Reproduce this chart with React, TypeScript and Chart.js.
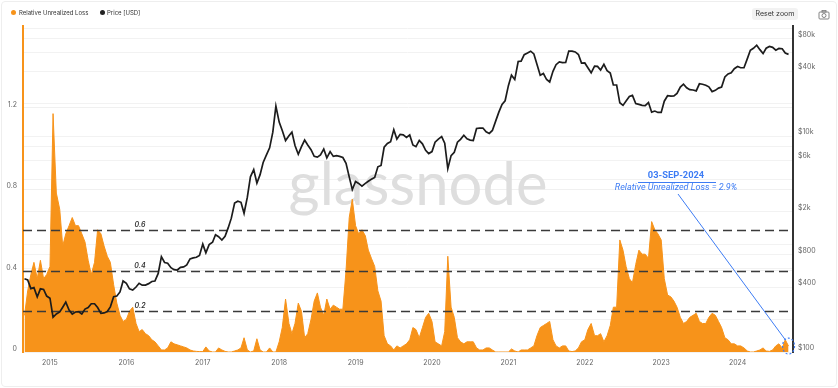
import { useEffect, useRef } from 'react';
import { Chart, registerables } from 'chart.js';

Chart.register(...registerables);

// ---- Data (semi-monthly samples: 1st and 16th of each month, starting 1-Sep-2014) ----
const firstSample = { year: 2014, month: 9 };

const lossValues: number[] = [
  // 2014 (Sep-Dec)
  0.18, 0.30, 0.38, 0.44, 0.36, 0.45, 0.36, 0.38,
  // 2015
  0.42, 1.17, 0.78, 0.70, 0.52, 0.58, 0.62, 0.66, 0.62, 0.62, 0.58, 0.54,
  0.45, 0.38, 0.44, 0.60, 0.58, 0.52, 0.47, 0.44, 0.33, 0.24, 0.18, 0.15,
  // 2016
  0.16, 0.20, 0.22, 0.14, 0.10, 0.11, 0.09, 0.08, 0.06, 0.05, 0.03, 0.01,
  0.01, 0.02, 0.05, 0.04, 0.035, 0.03, 0.025, 0.02, 0.01, 0.005, 0.003, 0.002,
  // 2017
  0.002, 0.025, 0.005, 0, 0, 0.02, 0.01, 0.003, 0, 0, 0.005, 0.01,
  0.02, 0.07, 0.01, 0, 0.005, 0.065, 0.01, 0, 0, 0.02, 0, 0,
  // 2018
  0.05, 0.12, 0.26, 0.14, 0.09, 0.14, 0.24, 0.20, 0.07, 0.09, 0.16, 0.25,
  0.29, 0.22, 0.18, 0.26, 0.21, 0.23, 0.22, 0.21, 0.21, 0.40, 0.66, 0.75,
  // 2019
  0.62, 0.58, 0.60, 0.57, 0.50, 0.46, 0.42, 0.30, 0.25, 0.08, 0.04, 0.03,
  0.01, 0.03, 0.02, 0.03, 0.04, 0.06, 0.12, 0.11, 0.07, 0.12, 0.17, 0.19,
  // 2020
  0.15, 0.05, 0.04, 0.03, 0.10, 0.47, 0.22, 0.17, 0.07, 0.05, 0.04, 0.05,
  0.05, 0.05, 0.02, 0.01, 0.01, 0.02, 0.02, 0.01, 0, 0, 0, 0,
  // 2021
  0, 0.015, 0.005, 0, 0.01, 0.01, 0.01, 0.02, 0.03, 0.08, 0.12, 0.13,
  0.14, 0.15, 0.06, 0.03, 0.02, 0.03, 0.03, 0.005, 0.002, 0.005, 0.02, 0.05,
  // 2022
  0.06, 0.11, 0.14, 0.08, 0.08, 0.09, 0.05, 0.08, 0.13, 0.22, 0.22, 0.55,
  0.50, 0.42, 0.36, 0.34, 0.43, 0.50, 0.48, 0.48, 0.46, 0.64, 0.60, 0.58,
  // 2023
  0.55, 0.36, 0.28, 0.27, 0.25, 0.22, 0.17, 0.14, 0.15, 0.17, 0.18, 0.19,
  0.15, 0.14, 0.14, 0.17, 0.19, 0.18, 0.15, 0.12, 0.07, 0.06, 0.04, 0.04,
  // 2024 (Jan - 1 Sep)
  0.03, 0.03, 0.02, 0.005, 0, 0, 0.005, 0.01, 0.02, 0.005, 0.003, 0.01,
  0.03, 0.04, 0.02, 0.06, 0.029,
];

const priceValues: number[] = [
  // 2014 (Sep-Dec)
  477, 465, 387, 395, 325, 385, 380, 330,
  // 2015
  315, 210, 225, 235, 260, 290, 245, 225, 235, 237, 225, 250,
  258, 280, 280, 258, 228, 230, 237, 262, 325, 330, 360, 455,
  // 2016
  433, 385, 375, 400, 433, 416, 417, 430, 450, 455, 535, 765,
  675, 665, 605, 580, 575, 608, 615, 640, 730, 745, 755, 785,
  // 2017
  1000, 830, 990, 1040, 1220, 1170, 1090, 1180, 1420, 1740, 2400, 2500,
  2440, 1930, 2720, 4200, 4900, 3680, 4400, 5700, 6700, 7800, 10900, 19000,
  // 2018
  13500, 11300, 9100, 10100, 10900, 8200, 6800, 8000, 9200, 8300, 7500, 6500,
  6400, 6700, 7600, 6300, 7200, 6500, 6600, 6500, 6350, 5600, 4200, 3200,
  // 2019
  3800, 3650, 3450, 3650, 3820, 4000, 4150, 5200, 5350, 7900, 8550, 8900,
  11500, 9400, 10400, 10300, 9750, 10270, 8300, 8000, 9150, 8500, 7400, 6900,
  // 2020
  7200, 8800, 9400, 9900, 8600, 5000, 6600, 7100, 8800, 9350, 10200, 9450,
  9200, 9130, 11800, 11900, 11900, 11000, 10600, 11300, 13800, 16700, 19700, 21300,
  // 2021
  29400, 36800, 33500, 49200, 49600, 56900, 59000, 61300, 57800, 46400, 36700, 38100,
  33500, 31800, 39900, 46000, 48800, 48000, 48200, 61500, 61300, 60400, 57200, 47600,
  // 2022
  47700, 43100, 38700, 44500, 44400, 41100, 46300, 40500, 38500, 29800, 29800, 20400,
  19300, 21200, 23300, 23900, 20100, 19700, 19300, 19200, 20500, 16700, 17100, 16600,
  // 2023
  16600, 21100, 23700, 23500, 23600, 24900, 28500, 30300, 28100, 27000, 26800, 26300,
  30600, 30300, 29700, 28700, 25900, 26600, 27900, 28500, 35400, 37800, 38700, 42200,
  // 2024 (Jan - 1 Sep)
  44200, 43100, 43100, 52100, 62500, 65300, 69700, 63400, 58300, 65300, 67800, 66600,
  62700, 65100, 64600, 58900, 57300,
];

const yearTicks = [2015, 2016, 2017, 2018, 2019, 2020, 2021, 2022, 2023, 2024];
const lossTicks = [0, 0.4, 0.8, 1.2];
const thresholdLevels = [0.2, 0.4, 0.6];
const priceGridTicks = [100, 200, 400, 600, 800, 1000, 2000, 4000, 6000, 8000, 10000, 20000, 40000, 60000, 80000, 100000];
const priceTickLabels: Record<number, string> = {
  100: '$100', 400: '$400', 800: '$800', 2000: '$2k', 6000: '$6k', 10000: '$10k', 40000: '$40k', 80000: '$80k',
};
const annotationDate = '03-SEP-2024';
const annotationMetric = 'Relative Unrealized Loss';

// ---- styling ----
const ORANGE = '#F7931A';
const BLUE = '#3D7CF4';
const FONT = 'Inter, "Open Sans", sans-serif';

function sampleTimes(n: number): number[] {
  const out: number[] = [];
  for (let i = 0; i < n; i++) {
    const m = firstSample.month - 1 + Math.floor(i / 2);
    const year = firstSample.year + Math.floor(m / 12);
    const mon = m % 12;
    const day = i % 2 ? 16 : 1;
    const dim = new Date(year, mon + 1, 0).getDate();
    out.push(year + (mon + (day - 1) / dim) / 12);
  }
  return out;
}

export default function App() {
  const ref = useRef<HTMLCanvasElement>(null);

  useEffect(() => {
    document.body.style.margin = '0';
    const times = sampleTimes(lossValues.length);

    const watermark = {
      id: 'watermark',
      beforeDatasetsDraw(chart: any) {
        const { ctx } = chart;
        ctx.save();
        ctx.font = `400 52px Lato, sans-serif`;
        const w = ctx.measureText('glassnode').width;
        const size = 52 * 259 / w;
        ctx.font = `400 ${size}px Lato, sans-serif`;
        ctx.fillStyle = '#dedede';
        ctx.textAlign = 'center';
        ctx.textBaseline = 'alphabetic';
        ctx.fillText('glassnode', 418, 205);
        ctx.restore();
      },
    };

    const thresholds = {
      id: 'thresholds',
      afterDatasetDraw(chart: any, args: any) {
        if (args.index !== 1) return;
        const { ctx, chartArea } = chart;
        const ys = chart.scales.yLoss;
        ctx.save();
        ctx.strokeStyle = '#3a3a3a';
        ctx.lineWidth = 1.4;
        ctx.setLineDash([9, 5]);
        ctx.fillStyle = '#333';
        ctx.font = `italic 600 7px ${FONT}`;
        ctx.textAlign = 'center';
        ctx.textBaseline = 'middle';
        for (const lv of thresholdLevels) {
          const y = Math.round(ys.getPixelForValue(lv)) + 0.5;
          ctx.beginPath();
          ctx.moveTo(chartArea.left, y);
          ctx.lineTo(chartArea.right, y);
          ctx.stroke();
          ctx.fillText(String(lv), 140, y - 6);
        }
        ctx.restore();
      },
    };

    const annotation = {
      id: 'annotation',
      afterDraw(chart: any) {
        const { ctx } = chart;
        const last = lossValues.length - 1;
        const px = chart.scales.x.getPixelForValue(times[last]);
        const py = chart.scales.yLoss.getPixelForValue(lossValues[last]);
        ctx.save();
        ctx.fillStyle = BLUE;
        ctx.strokeStyle = BLUE;
        ctx.textAlign = 'center';
        ctx.textBaseline = 'middle';
        ctx.font = `bold 9.3px Roboto, sans-serif`;
        ctx.fillText(annotationDate, 676, 176);
        ctx.lineWidth = 1;
        ctx.beginPath();
        ctx.moveTo(638, 182.5);
        ctx.lineTo(716, 182.5);
        ctx.stroke();
        ctx.font = `italic 9px Roboto, sans-serif`;
        ctx.fillText(`${annotationMetric} = ${(lossValues[last] * 100).toFixed(1)}%`, 676, 188);
        ctx.beginPath();
        ctx.moveTo(678, 194);
        ctx.lineTo(px - 3, py - 6);
        ctx.stroke();
        ctx.setLineDash([2, 2]);
        ctx.lineWidth = 1.2;
        ctx.beginPath();
        ctx.ellipse(px, py, 6, 8, 0, 0, Math.PI * 2);
        ctx.stroke();
        ctx.restore();
      },
    };

    const chart = new Chart(ref.current!, {
      type: 'line',
      data: {
        datasets: [
          {
            label: 'Price [USD]',
            data: times.map((t, i) => ({ x: t, y: priceValues[i] })),
            yAxisID: 'yPrice',
            borderColor: '#1c1c1c',
            borderWidth: 1.7,
            pointRadius: 0,
            fill: false,
            tension: 0,
          },
          {
            label: 'Relative Unrealized Loss',
            data: times.map((t, i) => ({ x: t, y: lossValues[i] })),
            yAxisID: 'yLoss',
            borderColor: ORANGE,
            backgroundColor: ORANGE,
            borderWidth: 1,
            pointRadius: 0,
            fill: 'origin',
            tension: 0,
          },
        ],
      },
      options: {
        responsive: false,
        animation: false,
        devicePixelRatio: 1,
        events: [],
        layout: { padding: { top: 26, left: 0, right: 0, bottom: 0 } },
        plugins: { legend: { display: false }, tooltip: { enabled: false } },
        scales: {
          x: {
            type: 'linear',
            min: 2014.647,
            max: 2024.725,
            afterBuildTicks: (s: any) => { s.ticks = yearTicks.map((v) => ({ value: v })); },
            afterFit: (s: any) => { s.height = 36; },
            grid: { display: false, drawTicks: false },
            border: { display: false },
            ticks: {
              autoSkip: false,
              maxRotation: 0,
              padding: 7,
              color: '#666',
              font: { family: FONT, size: 7 },
              callback: (v: any) => String(v),
            },
          },
          yLoss: {
            type: 'linear',
            position: 'left',
            min: 0,
            max: 1.6,
            afterBuildTicks: (s: any) => { s.ticks = lossTicks.map((v) => ({ value: v })); },
            afterFit: (s: any) => { s.width = 23; },
            grid: { color: '#f0f0f0', drawTicks: false },
            border: { color: ORANGE, width: 2 },
            ticks: {
              autoSkip: false,
              padding: 6,
              labelOffset: -3,
              color: '#666',
              font: { family: FONT, size: 7 },
              callback: (v: any) => String(v),
            },
          },
          yPrice: {
            type: 'logarithmic',
            position: 'right',
            min: 100,
            max: 105000,
            afterBuildTicks: (s: any) => { s.ticks = priceGridTicks.map((v) => ({ value: v })); },
            afterFit: (s: any) => { s.width = 45; },
            grid: { color: '#f2f2f2', drawTicks: false },
            border: { color: '#333', width: 2 },
            ticks: {
              autoSkip: false,
              padding: 5,
              labelOffset: -4,
              color: '#666',
              font: { family: FONT, size: 7 },
              callback: (v: any) => priceTickLabels[Number(v)] ?? '',
            },
          },
        },
      },
      plugins: [watermark, thresholds, annotation],
    } as any);

    return () => chart.destroy();
  }, []);

  const legendText: React.CSSProperties = { position: 'absolute', top: 9, fontSize: 6, lineHeight: '8px', color: '#333', fontFamily: FONT };
  const dot = (left: number, color: string): React.CSSProperties => ({
    position: 'absolute', left, top: 10, width: 5, height: 5, borderRadius: '50%', background: color,
  });

  return (
    <div style={{ position: 'relative', width: 838, height: 388, background: '#fff', overflow: 'hidden' }}>
      <canvas ref={ref} width={838} height={388} style={{ position: 'absolute', left: 0, top: 0 }} />
      <div style={dot(11, ORANGE)} />
      <div style={{ ...legendText, left: 19 }}>Relative Unrealized Loss</div>
      <div style={dot(100, '#222')} />
      <div style={{ ...legendText, left: 107 }}>Price [USD]</div>
      <div style={{
        position: 'absolute', left: 752, top: 8, width: 46, height: 12, borderRadius: 3, background: '#f2f2f2',
        fontFamily: FONT, fontSize: 7, lineHeight: '12px', textAlign: 'center', color: '#333',
      }}>Reset zoom</div>
      <svg style={{ position: 'absolute', left: 818, top: 9 }} width={12} height={11} viewBox="0 0 12 11">
        <rect x={1} y={3} width={10} height={7} rx={1} fill="none" stroke="#777" strokeWidth={0.9} />
        <rect x={4} y={1.5} width={4} height={1.5} fill="none" stroke="#777" strokeWidth={0.8} />
        <circle cx={6} cy={6.5} r={2} fill="none" stroke="#777" strokeWidth={0.9} />
      </svg>
      <div style={{
        position: 'absolute', left: 1, top: 1, width: 834, height: 384, border: '1px solid #eeeeee',
        borderRadius: 4, pointerEvents: 'none',
      }} />
    </div>
  );
}
